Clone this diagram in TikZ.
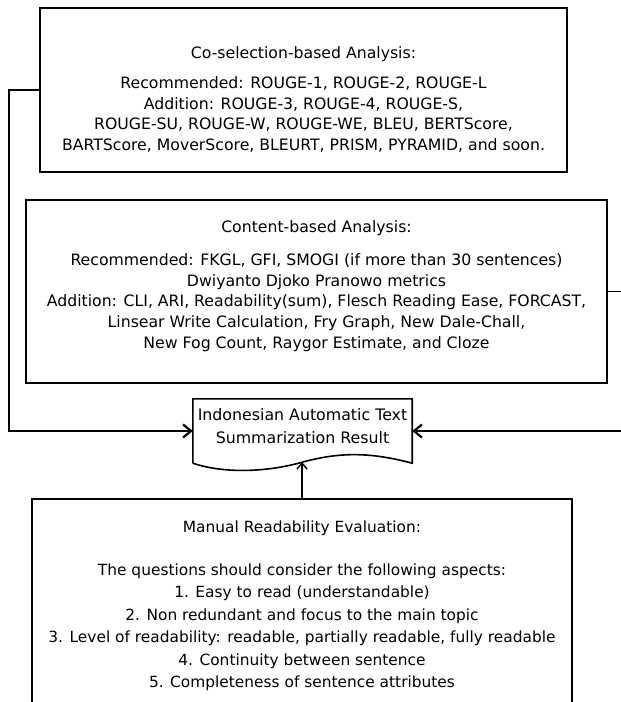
\documentclass[tikz,border=0pt]{standalone}
\usepackage{fontspec}
\setmainfont{DejaVu Sans}
\usetikzlibrary{arrows.meta}
\tikzset{
  frame/.style={draw,line width=1.6pt,inner sep=0pt},
  body/.style={align=center,inner sep=0pt,anchor=north,font=\fontsize{15.7}{20.6}\selectfont},
  link/.style={line width=1.8pt},
  >={Straight Barb[length=8pt,width=13pt,line width=2.2pt]}
}
\begin{document}
\begin{tikzpicture}[x=1pt,y=-1pt]
\useasboundingbox (0,0) rectangle (621,702);
% the four frames
\node[frame,minimum width=527,minimum height=164] (cosel) at (303.5,90) {};
\node[frame,minimum width=581,minimum height=183] (content) at (316.5,291.5) {};
\node[frame,minimum width=540,minimum height=221] (manual) at (302,609.5) {};
\node[inner sep=0pt,minimum width=219,minimum height=64] (result) at (302.5,431) {};
\draw[line width=1.6pt] (result.south west) -- (result.north west) -- (result.north east) -- (result.south east)
  .. controls (370,452) and (340,452) .. (303,462) coordinate (wave)
  .. controls (268,472) and (225,474) .. (result.south west);
% texts
\node[body] (coselText) at (303.5,46.5) {Co-selection-based Analysis:\\[9.4pt]
  Recommended: ROUGE-1, ROUGE-2, ROUGE-L\\
  Addition: ROUGE-3, ROUGE-4, ROUGE-S,\\
  ROUGE-SU, ROUGE-W, ROUGE-WE, BLEU, BERTScore,\\
  BARTScore, MoverScore, BLEURT, PRISM, PYRAMID, and soon.};
\node[body] (contentText) at (316.5,220.5) {Content-based Analysis:\\[12.4pt]
  Recommended: FKGL, GFI, SMOGI (if more than 30 sentences)\\
  Dwiyanto Djoko Pranowo metrics\\
  Addition: CLI, ARI, Readability(sum), Flesch Reading Ease, FORCAST,\\
  Linsear Write Calculation, Fry Graph, New Dale-Chall,\\
  New Fog Count, Raygor Estimate, and Cloze};
\node[body,font=\fontsize{15.4}{22.4}\selectfont] (manualText) at (302,520.5) {Manual Readability Evaluation:\\[20.6pt]
  The questions should consider the following aspects:\\
  1. Easy to read (understandable)\\
  2. Non redundant and focus to the main topic\\
  3. Level of readability: readable, partially readable, fully readable\\
  4. Continuity between sentence\\
  5. Completeness of sentence attributes};
\node[body,font=\fontsize{15.8}{23}\selectfont] (resultText) at (302.5,408.5) {Indonesian Automatic Text\\Summarization Result};
% connectors
\draw[link,->] (cosel.west) -- ++(-30,0) |- (result.west);
\draw[link,->] (content.east) -- ++(16,0) |- (result.east);
\draw[line width=1.3pt,-{Straight Barb[length=6pt,width=10pt,line width=1.4pt]}] (manual.north) -- (manual.north |- wave);
\end{tikzpicture}
\end{document}
